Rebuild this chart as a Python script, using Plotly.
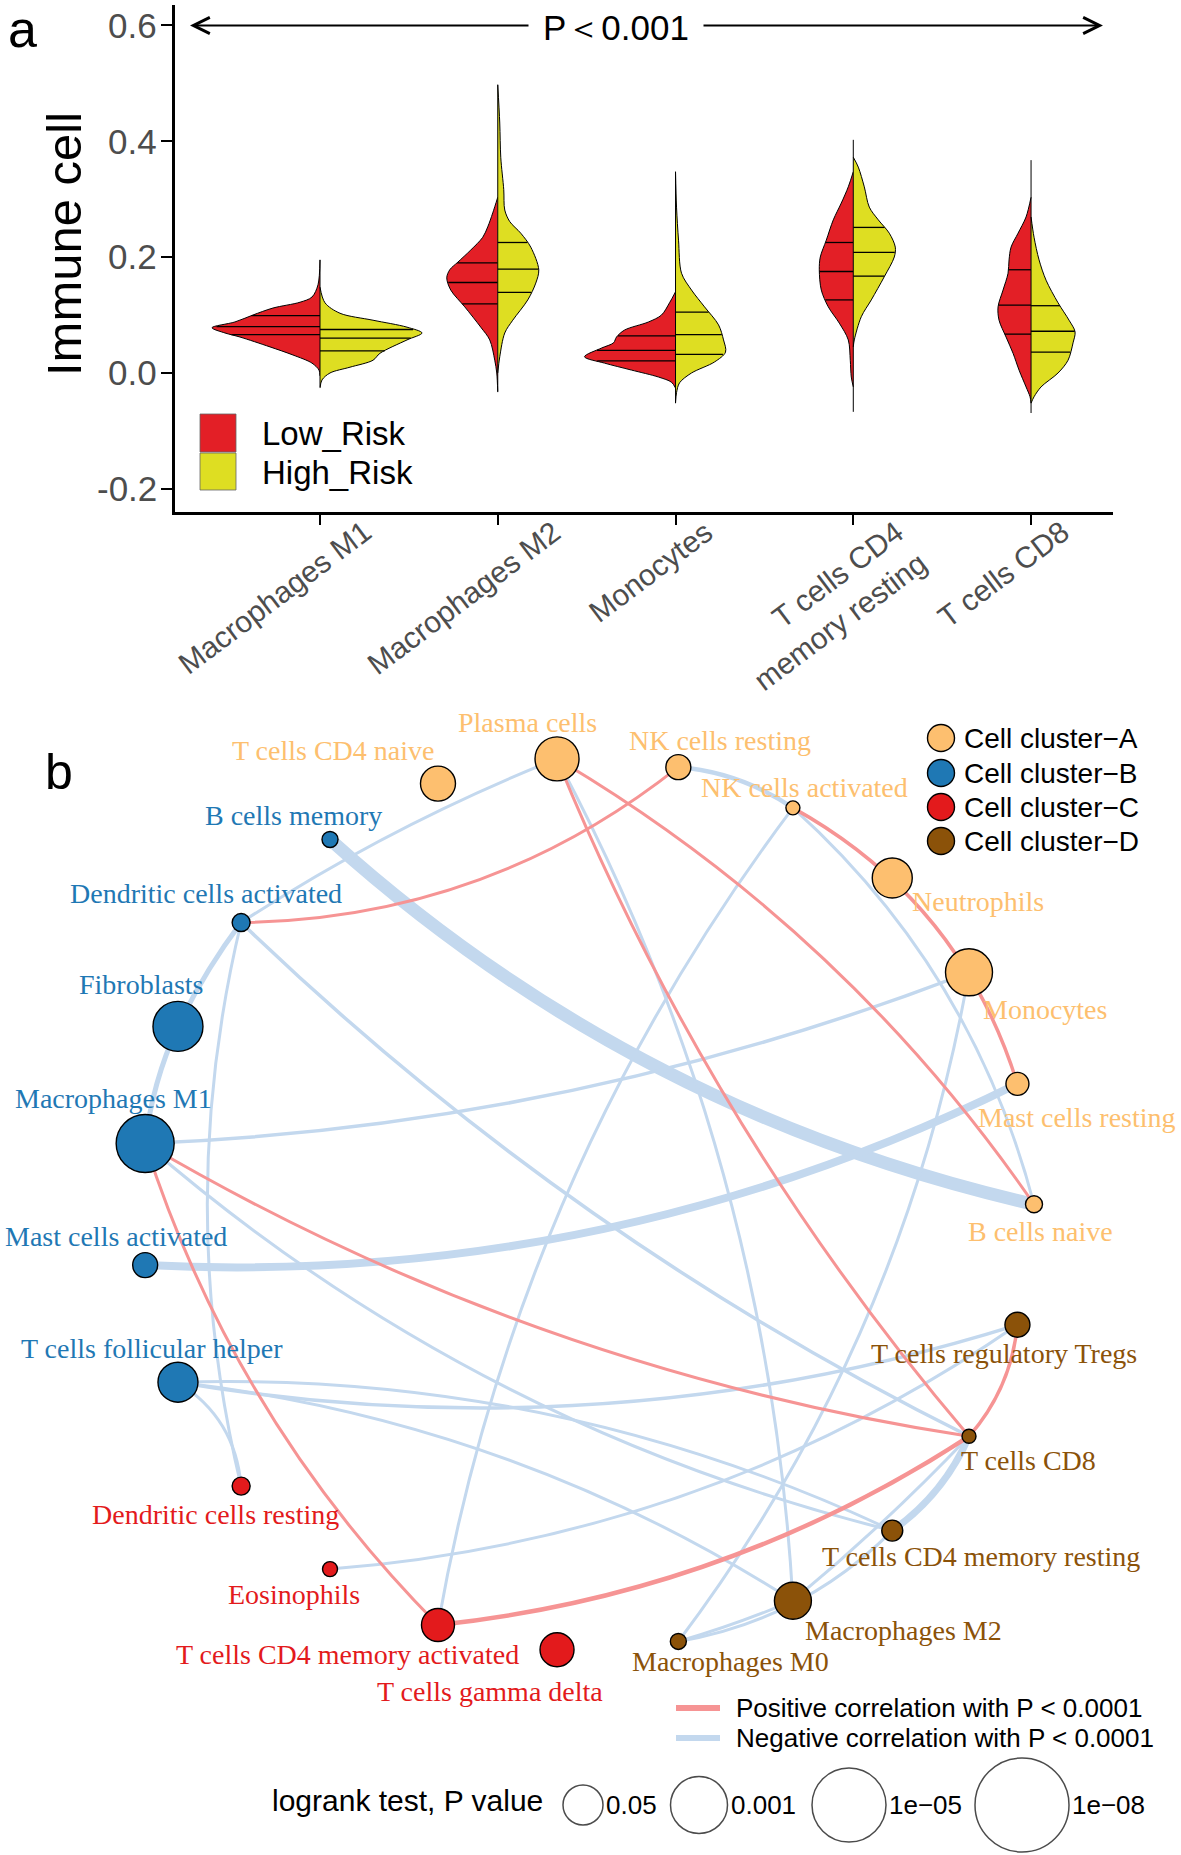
import numpy as np
import plotly.graph_objects as go

# ======================= Panel a data =======================
cells_a = ["Macrophages M1", "Macrophages M2", "Monocytes",
           "T cells CD4 memory resting", "T cells CD8"]
tick_text_a = ["Macrophages M1", "Macrophages M2", "Monocytes",
               "T cells CD4<br>memory resting", "T cells CD8"]
groups = ["Low_Risk", "High_Risk"]

# violin outlines: value levels (top -> bottom) and relative half-widths
low_y = [
    [0.195, 0.152, 0.131, 0.122, 0.112, 0.100, 0.088, 0.078, 0.069, 0.062, 0.045, 0.031, 0.017, 0.005, -0.005],
    [0.303, 0.276, 0.252, 0.234, 0.212, 0.191, 0.178, 0.164, 0.143, 0.114, 0.079, 0.057, 0.022, 0.000, -0.033],
    [0.140, 0.121, 0.100, 0.088, 0.074, 0.062, 0.052, 0.043, 0.028, 0.017, 0.005, -0.007, -0.016, -0.026],
    [0.347, 0.321, 0.293, 0.264, 0.229, 0.200, 0.178, 0.143, 0.114, 0.086, 0.057, 0.022, -0.007, -0.024],
    [0.303, 0.269, 0.241, 0.217, 0.195, 0.172, 0.143, 0.114, 0.091, 0.062, 0.034, 0.005, -0.024, -0.041, -0.052],
]
low_w = [
    [0, 2, 8, 20, 47, 67, 85, 108, 95, 80, 50, 27, 8, 1, 0],
    [0, 5, 10, 15, 27, 40, 48, 51, 47, 33, 17, 8, 3, 1, 0],
    [0, 6, 14, 27, 51, 59, 62, 74, 91, 71, 44, 17, 4, 0],
    [0, 5, 12, 20, 27, 33, 34, 32, 25, 14, 5, 3, 2, 0],
    [0, 5, 13, 20, 22, 23, 28, 33, 32, 25, 18, 12, 5, 1, 0],
]
high_y = [
    [0.148, 0.121, 0.103, 0.091, 0.079, 0.069, 0.057, 0.034, 0.022, 0.010, 0.000, -0.012, -0.026],
    [0.497, 0.431, 0.372, 0.316, 0.281, 0.261, 0.241, 0.217, 0.178, 0.155, 0.126, 0.091, 0.069, 0.028, 0.000],
    [0.347, 0.286, 0.229, 0.172, 0.143, 0.114, 0.083, 0.057, 0.036, 0.019, 0.000, -0.017, -0.034, -0.052],
    [0.372, 0.355, 0.321, 0.286, 0.264, 0.241, 0.217, 0.200, 0.166, 0.126, 0.097, 0.057, 0.045],
    [0.269, 0.234, 0.195, 0.160, 0.121, 0.091, 0.071, 0.052, 0.022, 0.000, -0.024, -0.041, -0.052],
]
high_w = [
    [0, 5, 20, 53, 87, 102, 87, 60, 53, 30, 10, 2, 0],
    [0, 2, 3, 6, 7, 12, 23, 33, 41, 38, 30, 15, 7, 2, 0],
    [0, 1, 3, 6, 16, 29, 43, 48, 50, 39, 16, 4, 1, 0],
    [0, 5, 11, 16, 25, 36, 42, 41, 31, 18, 8, 1, 0],
    [0, 3, 8, 15, 27, 38, 44, 42, 37, 27, 10, 3, 0],
]
low_quart = [[0.099, 0.080, 0.066], [0.190, 0.156, 0.119], [0.064, 0.039, 0.021],
             [0.225, 0.175, 0.126], [0.178, 0.117, 0.067]]
high_quart = [[0.075, 0.060, 0.038], [0.225, 0.179, 0.139], [0.105, 0.066, 0.032],
              [0.251, 0.208, 0.167], [0.116, 0.072, 0.036]]
value_min = [-0.024, -0.032, -0.052, -0.067, -0.069]
value_max = [0.195, 0.497, 0.347, 0.402, 0.367]
y_ticks = [-0.2, 0.0, 0.2, 0.4, 0.6]
y_tick_text = ["-0.2", "0.0", "0.2", "0.4", "0.6"]

# ======================= Panel b data =======================
nodes = ["B cells naive", "Mast cells resting", "Monocytes", "Neutrophils",
         "NK cells activated", "NK cells resting", "Plasma cells", "T cells CD4 naive",
         "B cells memory", "Dendritic cells activated", "Fibroblasts", "Macrophages M1",
         "Mast cells activated", "T cells follicular helper", "Dendritic cells resting",
         "Eosinophils", "T cells CD4 memory activated", "T cells gamma delta",
         "Macrophages M0", "Macrophages M2", "T cells CD4 memory resting", "T cells CD8",
         "T cells regulatory Tregs"]
node_cluster = ["A"] * 8 + ["B"] * 6 + ["C"] * 4 + ["D"] * 5
node_size = [17, 23, 47, 40, 14, 25, 44, 35, 16, 18, 50, 58, 25, 40, 18, 15, 33, 34, 16, 37, 21, 14, 25]

edge_from = ["B cells memory", "Mast cells activated", "Plasma cells", "Plasma cells",
             "NK cells resting", "NK cells activated", "NK cells activated", "Macrophages M1",
             "Macrophages M0", "Dendritic cells activated", "Fibroblasts", "Dendritic cells activated",
             "Dendritic cells activated", "Macrophages M1", "T cells follicular helper",
             "T cells follicular helper", "T cells follicular helper", "T cells follicular helper",
             "Eosinophils", "T cells CD8", "Macrophages M2", "Macrophages M0", "Macrophages M0",
             "Plasma cells", "Plasma cells", "Dendritic cells activated", "NK cells activated",
             "Macrophages M1", "Macrophages M1", "T cells CD4 memory activated",
             "T cells regulatory Tregs"]
edge_to = ["B cells naive", "Mast cells resting", "Dendritic cells activated", "Macrophages M2",
           "NK cells activated", "B cells naive", "T cells CD4 memory activated", "Monocytes",
           "Monocytes", "Fibroblasts", "Macrophages M1", "Dendritic cells resting",
           "T cells CD8", "T cells CD4 memory resting", "T cells regulatory Tregs",
           "T cells CD4 memory resting", "Macrophages M2", "Dendritic cells resting",
           "T cells regulatory Tregs", "T cells CD4 memory resting", "T cells CD8",
           "Macrophages M2", "T cells CD4 memory resting",
           "B cells naive", "T cells CD8", "NK cells resting", "Mast cells resting",
           "T cells CD8", "T cells CD4 memory activated", "T cells CD8", "T cells CD8"]
edge_type = ["neg"] * 23 + ["pos"] * 8
edge_strength = [13, 8, 3, 3, 4.5, 3, 3, 3.5, 3, 5, 5, 3, 3.5, 3, 3.5, 3, 3, 3, 3, 7, 3, 3, 3,
                 3, 3, 3, 3.5, 3, 3, 4.5, 3.5]
edge_curve = [0.13, 0.13, 0.05, -0.11, -0.13, -0.15, 0.12, 0.083, 0.12, 0.05, 0.08, 0.12,
              0.077, 0.12, 0.12, -0.12, -0.115, -0.25, 0.134, -0.14, 0.03, 0.03, 0.16,
              -0.11, 0.08, 0.17, -0.2, 0.096, 0.12, 0.12, -0.16]

cluster_names = ["Cell cluster\u2212A", "Cell cluster\u2212B", "Cell cluster\u2212C", "Cell cluster\u2212D"]
corr_names = ["Positive correlation with P < 0.0001", "Negative correlation with P < 0.0001"]
pval_labels = ["0.05", "0.001", "1e\u221205", "1e\u221208"]

# ======================= styles / layout =======================
W, H = 1181, 1855
RED, YEL = "#E31F26", "#DEDE22"
CL_COL = {"A": "#FDBF6F", "B": "#1F78B4", "C": "#E31A1C", "D": "#8B5209"}
EDGE_COL = {"pos": "#F69494", "neg": "#C3D8EE"}
SANS = "Liberation Sans, Arial, sans-serif"
SERIF = "Liberation Serif, Times New Roman, serif"
PX_PER_CAT = 177.75
TICK_GREY = "#4D4D4D"

fig = go.Figure()

# ---- violins (panel a) ----
for i in range(len(cells_a)):
    c = i + 1
    for side, ys, ws, qs, col in [(-1, low_y[i], low_w[i], low_quart[i], RED),
                                  (1, high_y[i], high_w[i], high_quart[i], YEL)]:
        xs = [c + side * w / PX_PER_CAT for w in ws]
        fig.add_trace(go.Scatter(x=xs, y=ys, mode="lines", fill="toself", fillcolor=col,
                                 line=dict(color="black", width=1, shape="spline", smoothing=0.9),
                                 hoverinfo="skip", showlegend=False, xaxis="x", yaxis="y"))
        ya = np.array(ys)[::-1]
        wa = np.array(ws, dtype=float)[::-1]
        qx, qy = [], []
        for q in qs:
            w = float(np.interp(q, ya, wa))
            qx += [c, c + side * w / PX_PER_CAT, None]
            qy += [q, q, None]
        fig.add_trace(go.Scatter(x=qx, y=qy, mode="lines", line=dict(color="black", width=1.3),
                                 hoverinfo="skip", showlegend=False, xaxis="x", yaxis="y"))
    fig.add_trace(go.Scatter(x=[c, c], y=[value_min[i], value_max[i]], mode="lines",
                             line=dict(color="black", width=1), hoverinfo="skip",
                             showlegend=False, xaxis="x", yaxis="y"))

annotations = []
# x tick labels (rotated, end near the tick like ggplot hjust=1)
xlab_shift = [60, 72, 46, 82, 46]
for i, txt in enumerate(tick_text_a):
    annotations.append(dict(x=i + 1, xref="x", xshift=xlab_shift[i], y=512, yref="y2",
                            text=txt, showarrow=False, textangle=-37, align="right",
                            xanchor="right", yanchor="top",
                            font=dict(family=SANS, size=30, color=TICK_GREY)))
# y tick labels
for v, txt in zip(y_ticks, y_tick_text):
    annotations.append(dict(x=159, xref="x2", y=v, yref="y", text=txt, showarrow=False,
                            xanchor="right", yanchor="middle",
                            font=dict(family=SANS, size=35, color=TICK_GREY)))

# ---- network (panel b), pixel coordinates on x2/y2 ----
n = len(nodes)
CX, CY, R = 587.5, 1204.3, 446.5
ang = 2 * np.pi * np.arange(n) / n
nx = CX + R * np.cos(ang)
ny = CY - R * np.sin(ang)
idx = {name: k for k, name in enumerate(nodes)}

shapes = []
for f, t, tp, w, k in zip(edge_from, edge_to, edge_type, edge_strength, edge_curve):
    x0, y0 = nx[idx[f]], ny[idx[f]]
    x1, y1 = nx[idx[t]], ny[idx[t]]
    dx, dy = x1 - x0, y1 - y0
    cx = (x0 + x1) / 2 - k * dy
    cy = (y0 + y1) / 2 + k * dx
    shapes.append(dict(type="path", xref="x2", yref="y2",
                       path=f"M {x0:.1f},{y0:.1f} Q {cx:.1f},{cy:.1f} {x1:.1f},{y1:.1f}",
                       line=dict(color=EDGE_COL[tp], width=w), layer="below"))

fig.add_trace(go.Scatter(x=nx, y=ny, mode="markers", xaxis="x2", yaxis="y2",
                         marker=dict(size=node_size, color=[CL_COL[c] for c in node_cluster],
                                     line=dict(color="black", width=1.4), opacity=1),
                         hoverinfo="text", text=nodes, showlegend=False))

label_offset = [(6, 27), (60, 34), (76, 37), (86, 24), (12, -20), (42, -27), (-30, -36),
                (-105, -33), (-37, -24), (-35, -29), (-37, -42), (-32, -45), (-29, -29),
                (-26, -34), (-26, 28), (-36, 25), (-90, 29), (-67, 42), (52, 20), (111, 30),
                (89, 26), (59, 24), (-13, 29)]
for k, name in enumerate(nodes):
    dx, dy = label_offset[k]
    annotations.append(dict(x=nx[k] + dx, y=ny[k] + dy, xref="x2", yref="y2", text=name,
                            showarrow=False, xanchor="center", yanchor="middle",
                            font=dict(family=SERIF, size=28, color=CL_COL[node_cluster[k]])))

# cluster legend
leg_y = [738, 773, 807, 841]
fig.add_trace(go.Scatter(x=[941] * 4, y=leg_y, mode="markers", xaxis="x2", yaxis="y2",
                         marker=dict(size=27, color=[CL_COL[c] for c in "ABCD"],
                                     line=dict(color="black", width=1.4)),
                         hoverinfo="skip", showlegend=False))
for yy, txt in zip(leg_y, cluster_names):
    annotations.append(dict(x=962, y=yy, xref="x2", yref="y2", text=txt, showarrow=False,
                            xanchor="left", yanchor="middle",
                            font=dict(family=SANS, size=28, color="black")))

# correlation legend
for yy, tp, txt in zip([1708, 1738], ["pos", "neg"], corr_names):
    shapes.append(dict(type="line", xref="x2", yref="y2", x0=676, x1=720, y0=yy, y1=yy,
                       line=dict(color=EDGE_COL[tp], width=6)))
    annotations.append(dict(x=734, y=yy, xref="x2", yref="y2", text=txt, showarrow=False,
                            xanchor="left", yanchor="middle",
                            font=dict(family=SANS, size=26, color="black")))

# logrank legend
pcx = [583, 699, 849, 1022]
pd_ = [40, 57, 74, 94]
fig.add_trace(go.Scatter(x=pcx, y=[1805] * 4, mode="markers", xaxis="x2", yaxis="y2",
                         marker=dict(size=pd_, color="white", line=dict(color="black", width=1.5)),
                         hoverinfo="skip", showlegend=False))
for x, d, txt in zip(pcx, pd_, pval_labels):
    annotations.append(dict(x=x + d / 2 + 1, y=1805, xref="x2", yref="y2", text=txt,
                            showarrow=False, xanchor="left", yanchor="middle",
                            font=dict(family=SANS, size=26, color="black")))
annotations.append(dict(x=545, y=1800, xref="x2", yref="y2", text="logrank test, P value",
                        showarrow=False, xanchor="right", yanchor="middle",
                        font=dict(family=SANS, size=30, color="black")))

# panel letters
annotations.append(dict(x=22, y=29, xref="x2", yref="y2", text="a", showarrow=False,
                        xanchor="center", yanchor="middle", font=dict(family=SANS, size=52, color="black")))
annotations.append(dict(x=59, y=772, xref="x2", yref="y2", text="b", showarrow=False,
                        xanchor="center", yanchor="middle", font=dict(family=SANS, size=50, color="black")))

# panel a legend
for (y0, y1), col, txt, ty in zip([(414, 452), (453, 490)], [RED, YEL], groups, [433, 472]):
    shapes.append(dict(type="rect", xref="x2", yref="y2", x0=200, x1=236, y0=y0, y1=y1,
                       fillcolor=col, line=dict(color="#666666", width=0.8), layer="above"))
    annotations.append(dict(x=260, y=ty, xref="x2", yref="y2", text=txt, showarrow=False,
                            xanchor="left", yanchor="middle",
                            font=dict(family=SANS, size=33, color="black")))

# y axis title
annotations.append(dict(x=64, y=244, xref="x2", yref="y2", text="Immune cell", showarrow=False,
                        textangle=-90, xanchor="center", yanchor="middle",
                        font=dict(family=SANS, size=49, color="black")))

# P value double arrow
annotations.append(dict(x=616, y=27, xref="x2", yref="y2", text="P\uff1c0.001", showarrow=False,
                        xanchor="center", yanchor="middle",
                        font=dict(family=SANS, size=35, color="black")))
for head, tail in [(190, 530), (1103, 702)]:
    annotations.append(dict(x=head, y=25.5, ax=tail, ay=25.5, xref="x2", yref="y2",
                            axref="x2", ayref="y2", text="", showarrow=True, arrowhead=5,
                            arrowsize=1.6, arrowwidth=2, arrowcolor="black"))

fig.update_layout(
    width=W, height=H, margin=dict(l=0, r=0, t=0, b=0, pad=0, autoexpand=False),
    autosize=False,
    paper_bgcolor="white", plot_bgcolor="rgba(0,0,0,0)", showlegend=False,
    shapes=shapes, annotations=annotations,
    xaxis=dict(domain=[175 / W, 1113 / W], range=[0.1843, 5.461], tickvals=[1, 2, 3, 4, 5],
               showticklabels=False, showline=True, linecolor="black", linewidth=2.5,
               ticks="outside", ticklen=10, tickwidth=2, tickcolor="black", showgrid=False,
               zeroline=False, automargin=False, fixedrange=True, anchor="y"),
    yaxis=dict(domain=[1 - 512 / H, 1 - 5 / H], range=[-0.2397, 0.6345], tickvals=y_ticks,
               showticklabels=False, showline=True, linecolor="black", linewidth=2.5,
               ticks="outside", ticklen=11, tickwidth=2, tickcolor="black", showgrid=False,
               zeroline=False, automargin=False, fixedrange=True, anchor="x"),
    xaxis2=dict(domain=[0, 1], range=[0, W], visible=False, fixedrange=True, anchor="y2",
                automargin=False),
    yaxis2=dict(domain=[0, 1], range=[H, 0], visible=False, fixedrange=True, anchor="x2",
                automargin=False),
)

fig.write_html("out.html", config={"displayModeBar": False},
               post_script="document.body.style.margin='0px';document.body.style.overflow='hidden';")
